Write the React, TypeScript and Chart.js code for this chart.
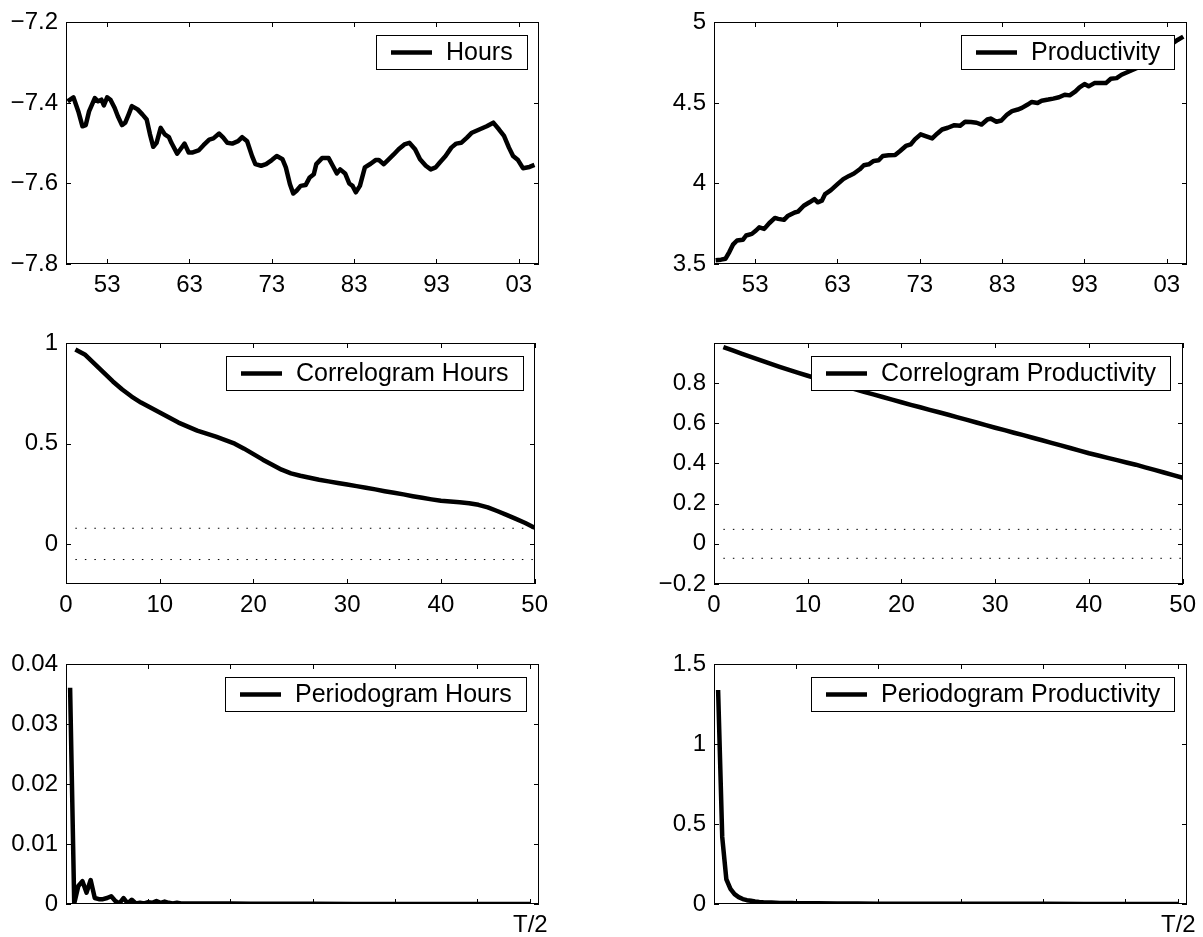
import React, { useEffect, useRef } from "react";
import { Chart, registerables } from "chart.js";

Chart.register(...registerables);

const FONT = '"Liberation Sans", Arial, Helvetica, sans-serif';

// ---------- Hours (log level) ----------
const hoursYears = [
  1948.2, 1948.9, 1949.5, 1950.0, 1950.4, 1950.8, 1951.5, 1951.9, 1952.3, 1952.6,
  1953.0, 1953.4, 1953.9, 1954.3, 1954.8, 1955.2, 1955.6, 1956.0, 1956.7, 1957.3,
  1957.8, 1958.2, 1958.6, 1959.0, 1959.5, 1960.0, 1960.5, 1960.8, 1961.5, 1961.9,
  1962.4, 1962.9, 1963.4, 1964.1, 1964.7, 1965.4, 1965.9, 1966.6, 1967.1, 1967.6,
  1968.2, 1968.9, 1969.4, 1970.0, 1970.6, 1971.0, 1971.7, 1972.3, 1973.0, 1973.6,
  1974.3, 1974.7, 1975.2, 1975.6, 1976.0, 1976.5, 1977.1, 1977.6, 1978.1, 1978.4,
  1979.1, 1979.9, 1980.4, 1980.9, 1981.3, 1981.9, 1982.4, 1982.8, 1983.2, 1983.7,
  1984.3, 1985.0, 1985.6, 1986.0, 1986.6, 1987.1, 1987.8, 1988.4, 1989.1, 1989.7,
  1990.4, 1991.0, 1991.7, 1992.3, 1992.9, 1993.4, 1994.1, 1994.8, 1995.4, 1996.0,
  1996.7, 1997.3, 1998.2, 1999.1, 1999.9, 2000.6, 2001.2, 2001.8, 2002.3, 2002.9,
  2003.5, 2004.3, 2004.9,
];
const hoursValues = [
  -7.396, -7.386, -7.421, -7.458, -7.455, -7.421, -7.388, -7.396, -7.392, -7.406,
  -7.386, -7.392, -7.412, -7.433, -7.455, -7.449, -7.429, -7.408, -7.416, -7.429,
  -7.441, -7.478, -7.509, -7.499, -7.462, -7.478, -7.485, -7.499, -7.526, -7.515,
  -7.501, -7.523, -7.523, -7.518, -7.505, -7.491, -7.488, -7.476, -7.486, -7.499,
  -7.501, -7.495, -7.485, -7.495, -7.532, -7.552, -7.556, -7.552, -7.542, -7.532,
  -7.54, -7.56, -7.602, -7.625, -7.618, -7.606, -7.604, -7.585, -7.577, -7.552,
  -7.537, -7.537, -7.556, -7.575, -7.565, -7.575, -7.6, -7.606, -7.622, -7.606,
  -7.56, -7.551, -7.542, -7.542, -7.552, -7.542, -7.528, -7.515, -7.503, -7.499,
  -7.515, -7.54, -7.556, -7.565, -7.56, -7.548, -7.532, -7.511, -7.501, -7.499,
  -7.486, -7.474, -7.466, -7.458, -7.449, -7.466, -7.482, -7.511, -7.532, -7.542,
  -7.562, -7.559, -7.554,
];

// ---------- Productivity (log level) ----------
const prodYears = [
  1948.2, 1948.85, 1949.4, 1949.86, 1950.3, 1950.8, 1951.5, 1951.9, 1952.6, 1953.1,
  1953.5, 1954.1, 1954.7, 1955.4, 1955.8, 1956.5, 1957.0, 1957.8, 1958.2, 1958.9,
  1959.6, 1960.2, 1960.6, 1961.1, 1961.5, 1962.2, 1963.0, 1963.7, 1964.4, 1965.0,
  1965.7, 1966.2, 1966.8, 1967.4, 1968.0, 1968.5, 1969.2, 1970.0, 1970.6, 1971.3,
  1971.9, 1972.4, 1973.1, 1973.7, 1974.5, 1975.1, 1975.7, 1976.4, 1977.2, 1977.9,
  1978.5, 1979.2, 1979.9, 1980.5, 1981.2, 1981.6, 1982.3, 1982.9, 1983.6, 1984.2,
  1984.9, 1985.4, 1986.1, 1986.6, 1987.3, 1987.8, 1988.6, 1989.2, 1989.9, 1990.6,
  1991.2, 1991.9, 1992.4, 1993.0, 1993.5, 1994.2, 1994.9, 1995.6, 1996.2, 1996.9,
  1997.5, 1998.4, 1999.3, 2000.2, 2001.0, 2001.9, 2002.6, 2003.0, 2003.7, 2004.3,
  2005.0,
];
const prodValues = [
  3.523, 3.527, 3.533, 3.574, 3.62, 3.646, 3.65, 3.677, 3.687, 3.708,
  3.728, 3.718, 3.753, 3.786, 3.78, 3.774, 3.8, 3.82, 3.825, 3.862,
  3.883, 3.903, 3.883, 3.893, 3.934, 3.959, 3.996, 4.027, 4.047, 4.062,
  4.088, 4.113, 4.119, 4.14, 4.144, 4.171, 4.175, 4.177, 4.202, 4.233,
  4.243, 4.274, 4.305, 4.294, 4.28, 4.309, 4.335, 4.346, 4.362, 4.358,
  4.383, 4.381, 4.377, 4.366, 4.397, 4.403, 4.383, 4.391, 4.428, 4.449,
  4.459, 4.469, 4.49, 4.506, 4.5, 4.514, 4.521, 4.527, 4.535, 4.551,
  4.547, 4.572, 4.597, 4.617, 4.603, 4.623, 4.623, 4.623, 4.65, 4.654,
  4.675, 4.695, 4.716, 4.753, 4.782, 4.809, 4.819, 4.84, 4.87, 4.891,
  4.912,
];

const yearTicks = [1953, 1963, 1973, 1983, 1993, 2003];
const yearTickLabels = ["53", "63", "73", "83", "93", "03"];
const hoursTicks = [-7.8, -7.6, -7.4, -7.2];
const hoursTickLabels = ["\u22127.8", "\u22127.6", "\u22127.4", "\u22127.2"];
const prodTicks = [3.5, 4, 4.5, 5];
const prodTickLabels = ["3.5", "4", "4.5", "5"];

// ---------- Correlograms ----------
const lags = [
  1, 2, 3, 4, 5, 6, 7, 8, 9, 10, 11, 12, 13, 14, 15, 16, 17, 18, 19, 20, 21, 22, 23, 24, 25,
  26, 27, 28, 29, 30, 31, 32, 33, 34, 35, 36, 37, 38, 39, 40, 41, 42, 43, 44, 45, 46, 47, 48, 49, 50,
];
const acfHours = [
  0.97, 0.945, 0.9, 0.855, 0.81, 0.77, 0.735, 0.705, 0.68, 0.655,
  0.63, 0.605, 0.585, 0.565, 0.55, 0.535, 0.518, 0.5, 0.475, 0.448,
  0.42, 0.395, 0.37, 0.352, 0.34, 0.33, 0.32, 0.312, 0.304, 0.296,
  0.288, 0.28, 0.272, 0.263, 0.255, 0.247, 0.238, 0.23, 0.222, 0.215,
  0.211, 0.208, 0.203, 0.195, 0.182, 0.164, 0.145, 0.125, 0.104, 0.08,
];
const acfProd = [
  0.98, 0.963, 0.946, 0.93, 0.913, 0.897, 0.881, 0.866, 0.851, 0.837,
  0.823, 0.809, 0.796, 0.783, 0.77, 0.757, 0.744, 0.731, 0.718, 0.705,
  0.692, 0.68, 0.667, 0.655, 0.643, 0.63, 0.617, 0.604, 0.591, 0.578,
  0.566, 0.553, 0.541, 0.528, 0.516, 0.503, 0.49, 0.477, 0.464, 0.451,
  0.44, 0.428, 0.417, 0.405, 0.394, 0.381, 0.368, 0.355, 0.342, 0.329,
];
const bandLags = [1, 50];
const bandHours = 0.078;
const bandProd = 0.072;
const lagTicks = [0, 10, 20, 30, 40, 50];
const lagTickLabels = ["0", "10", "20", "30", "40", "50"];
const acfHoursTicks = [0, 0.5, 1];
const acfHoursTickLabels = ["0", "0.5", "1"];
const acfProdTicks = [-0.2, 0, 0.2, 0.4, 0.6, 0.8];
const acfProdTickLabels = ["\u22120.2", "0", "0.2", "0.4", "0.6", "0.8"];

// ---------- Periodograms ----------
const perHoursFreq = [
  1, 2, 3, 4, 5, 6, 7, 8, 9, 10, 11, 12, 13, 14, 15, 16, 17, 18, 19, 20,
  21, 22, 23, 24, 25, 26, 27, 28, 29, 30, 35, 40, 45, 50, 60, 70, 80, 90, 100, 113,
];
const perHoursVals = [
  0.0361, 0.0001, 0.003, 0.0038, 0.0019, 0.004, 0.001, 0.0008, 0.0008, 0.001,
  0.0013, 0.0005, 0.0001, 0.001, 0.0001, 0.0007, 0.0001, 0.0002, 0.0001, 0.0003,
  0.0002, 0.0005, 0.0002, 0.0004, 0.0002, 0.0001, 0.0002, 0.0001, 0.0001, 0.0001,
  0.0001, 0.0001, 0.00005, 0.00005, 0.00003, 0.00002, 0.00002, 0.00001, 0.00001, 0.00001,
];
const perProdFreq = [
  1, 2, 3, 4, 5, 6, 7, 8, 9, 10, 11, 12, 13, 14, 15, 16, 17, 18, 19, 20,
  25, 30, 35, 40, 50, 60, 70, 80, 90, 100, 113,
];
const perProdVals = [
  1.34, 0.42, 0.155, 0.095, 0.062, 0.043, 0.031, 0.024, 0.02, 0.016,
  0.013, 0.011, 0.01, 0.009, 0.008, 0.007, 0.0065, 0.006, 0.0055, 0.005,
  0.004, 0.003, 0.0025, 0.002, 0.0015, 0.001, 0.001, 0.0008, 0.0006, 0.0005, 0.0005,
];
const freqTicks = [0, 20, 40, 60, 80, 100, 113];
const freqTickLabels = ["", "", "", "", "", "", "T/2"];
const perHoursTicks = [0, 0.01, 0.02, 0.03, 0.04];
const perHoursTickLabels = ["0", "0.01", "0.02", "0.03", "0.04"];
const perProdTicks = [0, 0.5, 1, 1.5];
const perProdTickLabels = ["0", "0.5", "1", "1.5"];

type Panel = {
  col: number;
  row: number;
  xs: number[];
  ys: number[];
  xMin: number;
  xMax: number;
  yMin: number;
  yMax: number;
  xTicks: number[];
  xLabels: string[];
  yTicks: number[];
  yLabels: string[];
  legend: string;
  band?: number;
};

const COL_LEFT = [66, 714];
const ROW_TOP = [20, 341, 662];
const ROW_H = [244, 243, 242];
const PLOT_W = 473;
const Y_AXIS_W = 66;
const PAD_TOP = 20;
const PAD_RIGHT = 16;
const BOTTOM_SPACE = [40, 40, 33];

const panels: Panel[] = [
  { col: 0, row: 0, xs: hoursYears, ys: hoursValues, xMin: 1948, xMax: 2005.45, yMin: -7.8, yMax: -7.2,
    xTicks: yearTicks, xLabels: yearTickLabels, yTicks: hoursTicks, yLabels: hoursTickLabels, legend: "Hours" },
  { col: 1, row: 0, xs: prodYears, ys: prodValues, xMin: 1948, xMax: 2005.45, yMin: 3.5, yMax: 5,
    xTicks: yearTicks, xLabels: yearTickLabels, yTicks: prodTicks, yLabels: prodTickLabels, legend: "Productivity" },
  { col: 0, row: 1, xs: lags, ys: acfHours, xMin: 0, xMax: 50, yMin: -0.2, yMax: 1,
    xTicks: lagTicks, xLabels: lagTickLabels, yTicks: acfHoursTicks, yLabels: acfHoursTickLabels,
    legend: "Correlogram Hours", band: bandHours },
  { col: 1, row: 1, xs: lags, ys: acfProd, xMin: 0, xMax: 50, yMin: -0.2, yMax: 0.998,
    xTicks: lagTicks, xLabels: lagTickLabels, yTicks: acfProdTicks, yLabels: acfProdTickLabels,
    legend: "Correlogram Productivity", band: bandProd },
  { col: 0, row: 2, xs: perHoursFreq, ys: perHoursVals, xMin: 0, xMax: 115, yMin: 0, yMax: 0.04,
    xTicks: freqTicks, xLabels: freqTickLabels, yTicks: perHoursTicks, yLabels: perHoursTickLabels,
    legend: "Periodogram Hours" },
  { col: 1, row: 2, xs: perProdFreq, ys: perProdVals, xMin: 0, xMax: 115, yMin: 0, yMax: 1.5,
    xTicks: freqTicks, xLabels: freqTickLabels, yTicks: perProdTicks, yLabels: perProdTickLabels,
    legend: "Periodogram Productivity" },
];

function PanelChart({ p }: { p: Panel }) {
  const ref = useRef<HTMLCanvasElement | null>(null);
  const plotH = ROW_H[p.row];
  const bottom = BOTTOM_SPACE[p.row];
  const width = Y_AXIS_W + PLOT_W + PAD_RIGHT;
  const height = PAD_TOP + plotH + bottom;
  const left = COL_LEFT[p.col] - Y_AXIS_W;
  const top = ROW_TOP[p.row] - PAD_TOP;

  useEffect(() => {
    if (!ref.current) return;
    const framePlugin = {
      id: "frame" + p.col + p.row,
      afterDatasetsDraw(chart: any) {
        const { ctx, chartArea: a, scales } = chart;
        ctx.save();
        ctx.strokeStyle = "#000";
        ctx.lineWidth = 1;
        const L = Math.round(a.left), R = Math.round(a.right), T = Math.round(a.top), B = Math.round(a.bottom);
        ctx.beginPath();
        for (const v of p.xTicks) {
          const px = Math.round(scales.x.getPixelForValue(v)) + 0.5;
          ctx.moveTo(px, B);
          ctx.lineTo(px, B - 5);
          ctx.moveTo(px, T);
          ctx.lineTo(px, T + 5);
        }
        for (const v of p.yTicks) {
          const py = Math.round(scales.y.getPixelForValue(v)) + 0.5;
          ctx.moveTo(L, py);
          ctx.lineTo(L + 5, py);
          ctx.moveTo(R, py);
          ctx.lineTo(R - 5, py);
        }
        ctx.stroke();
        ctx.strokeRect(L + 0.5, T + 0.5, R - L - 1, B - T - 1);
        ctx.restore();
      },
      afterDraw(chart: any) {
        const { ctx, chartArea: a } = chart;
        ctx.save();
        ctx.font = "25px " + FONT;
        const tw = ctx.measureText(p.legend).width;
        const bw = 15 + 41 + 14 + tw + 14;
        const bh = 34;
        const bx = Math.round(a.right - 12.5 - bw);
        const by = Math.round(a.top + 13);
        ctx.fillStyle = "#fff";
        ctx.fillRect(bx, by, bw, bh);
        ctx.strokeStyle = "#000";
        ctx.lineWidth = 1;
        ctx.strokeRect(bx + 0.5, by + 0.5, Math.round(bw), bh);
        const cy = by + bh / 2 + 0.5;
        ctx.lineWidth = 4.5;
        ctx.beginPath();
        ctx.moveTo(bx + 15, cy);
        ctx.lineTo(bx + 56, cy);
        ctx.stroke();
        ctx.fillStyle = "#000";
        ctx.textBaseline = "middle";
        ctx.textAlign = "left";
        ctx.fillText(p.legend, bx + 70, cy + 1);
        ctx.restore();
      },
    };

    const datasets: any[] = [
      {
        data: p.xs.map((x, i) => ({ x, y: p.ys[i] })),
        borderColor: "#000",
        borderWidth: 4.5,
        pointRadius: 0,
        tension: 0,
        fill: false,
        borderJoinStyle: "round",
        borderCapStyle: "butt",
      },
    ];
    if (p.band !== undefined) {
      for (const s of [1, -1]) {
        datasets.push({
          data: bandLags.map((x) => ({ x, y: s * (p.band as number) })),
          borderColor: "#000",
          borderWidth: 1,
          borderDash: [1.5, 8],
          pointRadius: 0,
          fill: false,
        });
      }
    }

    const tickFont = { family: FONT, size: 24 };
    const chart = new Chart(ref.current, {
      type: "line",
      data: { datasets },
      options: {
        animation: false,
        responsive: false,
        devicePixelRatio: 1,
        events: [],
        layout: { padding: { left: 0, top: PAD_TOP, right: PAD_RIGHT, bottom: 0 } },
        plugins: { legend: { display: false }, tooltip: { enabled: false } },
        scales: {
          x: {
            type: "linear",
            min: p.xMin,
            max: p.xMax,
            grid: { display: false, drawTicks: false },
            border: { display: false },
            afterBuildTicks: (s: any) => {
              s.ticks = p.xTicks.map((v) => ({ value: v }));
            },
            afterFit: (s: any) => {
              s.height = bottom;
            },
            ticks: {
              autoSkip: false,
              maxRotation: 0,
              minRotation: 0,
              padding: 7,
              color: "#000",
              font: tickFont,
              callback: (_v: any, i: number) => p.xLabels[i],
            },
          },
          y: {
            type: "linear",
            min: p.yMin,
            max: p.yMax,
            grid: { display: false, drawTicks: false },
            border: { display: false },
            afterBuildTicks: (s: any) => {
              s.ticks = p.yTicks.map((v) => ({ value: v }));
            },
            afterFit: (s: any) => {
              s.width = Y_AXIS_W;
            },
            ticks: {
              autoSkip: false,
              padding: 8,
              color: "#000",
              font: tickFont,
              callback: (_v: any, i: number) => p.yLabels[i],
            },
          },
        },
      } as any,
      plugins: [framePlugin as any],
    });
    return () => chart.destroy();
  }, []);

  return (
    <canvas
      ref={ref}
      width={width}
      height={height}
      style={{ position: "absolute", left, top, width, height }}
    />
  );
}

export default function App() {
  return (
    <div
      style={{
        position: "absolute",
        left: 0,
        top: 0,
        width: 1203,
        height: 937,
        overflow: "hidden",
        background: "#fff",
      }}
    >
      {panels.map((p, i) => (
        <PanelChart key={i} p={p} />
      ))}
    </div>
  );
}
